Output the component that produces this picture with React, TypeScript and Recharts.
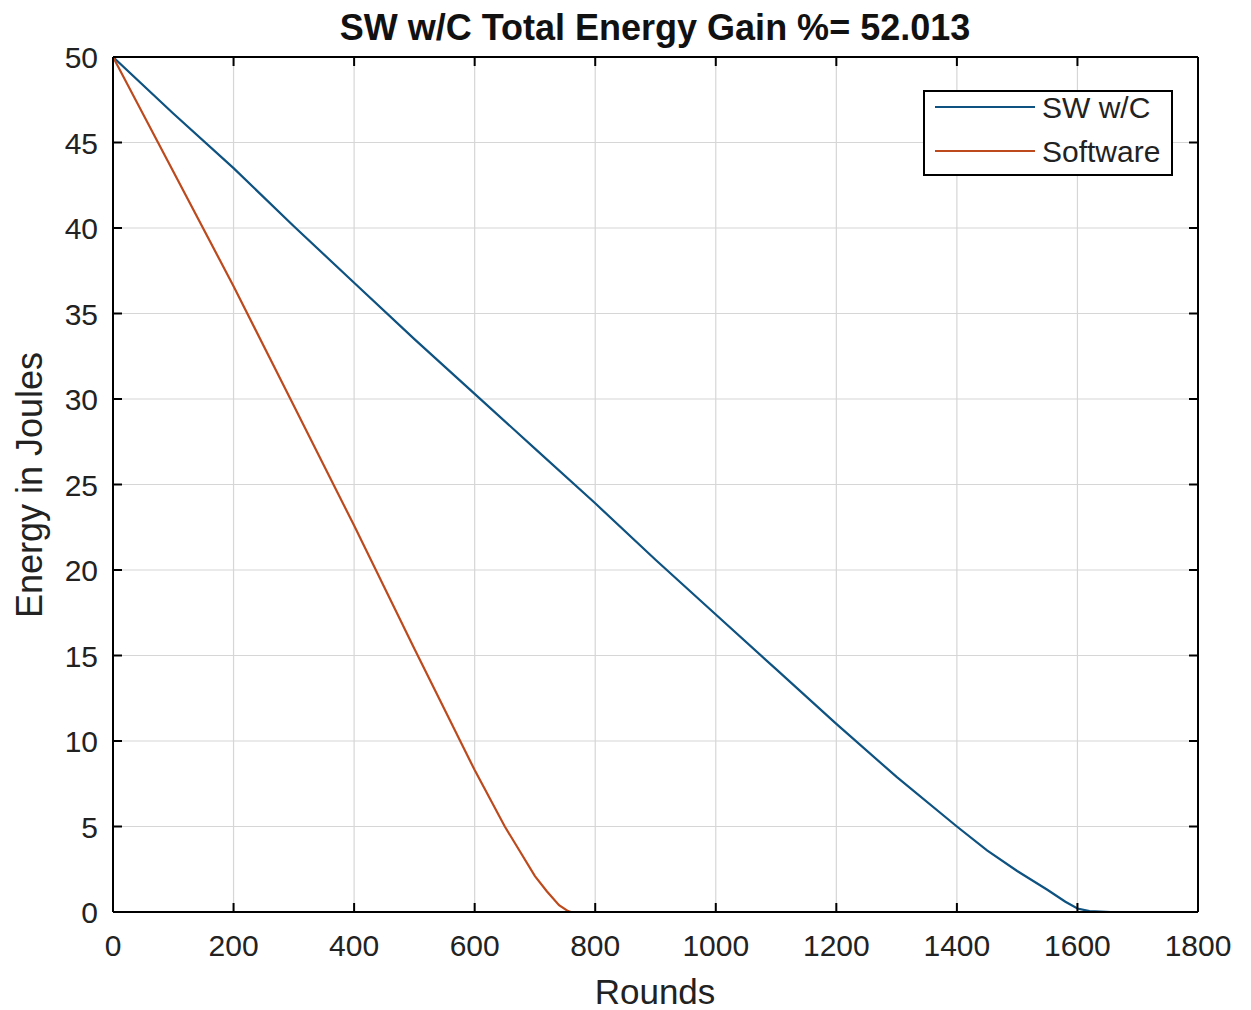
import React from 'react';
import { LineChart, Line, XAxis, YAxis, CartesianGrid, Legend } from 'recharts';

// Remaining energy (J) against simulation round
const swcRounds = [0, 100, 200, 300, 400, 500, 600, 700, 800, 900, 1000, 1100, 1200, 1300, 1400, 1450, 1500, 1550, 1580, 1600, 1620, 1655];
const swcEnergy = [50, 46.7, 43.5, 40.1, 36.8, 33.5, 30.3, 27.1, 23.9, 20.6, 17.4, 14.2, 11.0, 7.9, 5.0, 3.6, 2.4, 1.3, 0.6, 0.2, 0.05, 0];

const softwareRounds = [0, 100, 200, 300, 400, 500, 600, 650, 700, 720, 740, 755, 760];
const softwareEnergy = [50, 43.3, 36.6, 29.6, 22.6, 15.4, 8.3, 5.0, 2.1, 1.2, 0.4, 0.05, 0];

const xTicks = [0, 200, 400, 600, 800, 1000, 1200, 1400, 1600, 1800];
const yTicks = [0, 5, 10, 15, 20, 25, 30, 35, 40, 45, 50];

const seriesNames = ['SW w/C', 'Software'];
const seriesColors = ['#0d5281', '#bd4a1d'];

const title = 'SW w/C Total Energy Gain %= 52.013';
const xLabel = 'Rounds';
const yLabel = 'Energy in Joules';

const swcData = swcRounds.map((r, i) => ({ round: r, energy: swcEnergy[i] }));
const softwareData = softwareRounds.map((r, i) => ({ round: r, energy: softwareEnergy[i] }));

const W = 1251;
const H = 1010;
const FONT = '"Liberation Sans", Arial, Helvetica, sans-serif';
const TICK_FONT = 30;
const TICK_LEN = 9;

// plot box: left 113, top 57, right 1198, bottom 912
const LEFT_W = 60;
const BOTTOM_H = 60;
const M = { top: 56, right: 52, bottom: 98 - BOTTOM_H, left: 113 - LEFT_W };

const BottomTick = (props: any) => {
  const { x, y, payload } = props;
  return (
    <g>
      <line x1={x} y1={y} x2={x} y2={y - TICK_LEN} stroke="#000" strokeWidth={2} />
      <text x={x} y={y + 44} textAnchor="middle" fontSize={TICK_FONT} fontFamily={FONT} fill="#222">
        {payload.value}
      </text>
    </g>
  );
};

const TopTick = (props: any) => {
  const { x, y } = props;
  return <line x1={x} y1={y} x2={x} y2={y + TICK_LEN} stroke="#000" strokeWidth={2} />;
};

const LeftTick = (props: any) => {
  const { x, y, payload } = props;
  return (
    <g>
      <line x1={x} y1={y} x2={x + TICK_LEN} y2={y} stroke="#000" strokeWidth={2} />
      <text x={x - 15} y={y + 11} textAnchor="end" fontSize={TICK_FONT} fontFamily={FONT} fill="#222">
        {payload.value}
      </text>
    </g>
  );
};

const RightTick = (props: any) => {
  const { x, y } = props;
  return <line x1={x} y1={y} x2={x - TICK_LEN} y2={y} stroke="#000" strokeWidth={2} />;
};

const LegendBox = () => (
  <svg width={250} height={86} style={{ display: 'block', overflow: 'visible' }}>
    <rect x={1} y={1} width={248} height={84} fill="#fff" stroke="#000" strokeWidth={2} />
    {seriesNames.map((name, i) => (
      <g key={name}>
        <line x1={12} x2={112} y1={17 + i * 44} y2={17 + i * 44} stroke={seriesColors[i]} strokeWidth={2} />
        <text x={119} y={28 + i * 44} fontSize={TICK_FONT} fontFamily={FONT} fill="#222">
          {name}
        </text>
      </g>
    ))}
  </svg>
);

export default function App() {
  return (
    <div style={{ position: 'absolute', left: 0, top: 0, width: W, height: H, background: '#fff' }}>
      <LineChart width={W} height={H} margin={M}>
        <CartesianGrid stroke="#d6d6d6" strokeWidth={1.2} />
        <XAxis
          type="number"
          dataKey="round"
          domain={[0, 1800]}
          ticks={xTicks}
          allowDataOverflow
          height={BOTTOM_H}
          tickSize={0}
          tickMargin={0}
          tickLine={false}
          axisLine={{ stroke: '#000', strokeWidth: 2 }}
          tick={BottomTick}
          interval={0}
        />
        <XAxis
          xAxisId="top"
          orientation="top"
          type="number"
          dataKey="round"
          domain={[0, 1800]}
          ticks={xTicks}
          allowDataOverflow
          height={1}
          tickSize={0}
          tickMargin={0}
          tickLine={false}
          axisLine={{ stroke: '#000', strokeWidth: 2 }}
          tick={TopTick}
          interval={0}
        />
        <YAxis
          type="number"
          domain={[0, 50]}
          ticks={yTicks}
          allowDataOverflow
          width={LEFT_W}
          tickSize={0}
          tickMargin={0}
          tickLine={false}
          axisLine={{ stroke: '#000', strokeWidth: 2 }}
          tick={LeftTick}
          interval={0}
        />
        <YAxis
          yAxisId="right"
          orientation="right"
          type="number"
          domain={[0, 50]}
          ticks={yTicks}
          allowDataOverflow
          width={1}
          tickSize={0}
          tickMargin={0}
          tickLine={false}
          axisLine={{ stroke: '#000', strokeWidth: 2 }}
          tick={RightTick}
          interval={0}
        />
        <Line
          data={swcData}
          dataKey="energy"
          name={seriesNames[0]}
          stroke={seriesColors[0]}
          strokeWidth={2.2}
          dot={false}
          type="linear"
          isAnimationActive={false}
        />
        <Line
          data={softwareData}
          dataKey="energy"
          name={seriesNames[1]}
          stroke={seriesColors[1]}
          strokeWidth={2.2}
          dot={false}
          type="linear"
          isAnimationActive={false}
        />
        <Legend
          layout="vertical"
          align="center"
          verticalAlign="middle"
          content={<LegendBox />}
          wrapperStyle={{ left: 923, top: 90, width: 250, height: 86 }}
        />
        <text x={655} y={40} textAnchor="middle" fontSize={36} fontWeight="bold" fontFamily={FONT} fill="#111">
          {title}
        </text>
        <text x={655} y={1004} textAnchor="middle" fontSize={35} fontFamily={FONT} fill="#222">
          {xLabel}
        </text>
        <text
          x={42}
          y={485}
          textAnchor="middle"
          fontSize={36}
          fontFamily={FONT}
          fill="#222"
          transform="rotate(-90 42 485)"
        >
          {yLabel}
        </text>
      </LineChart>
    </div>
  );
}
